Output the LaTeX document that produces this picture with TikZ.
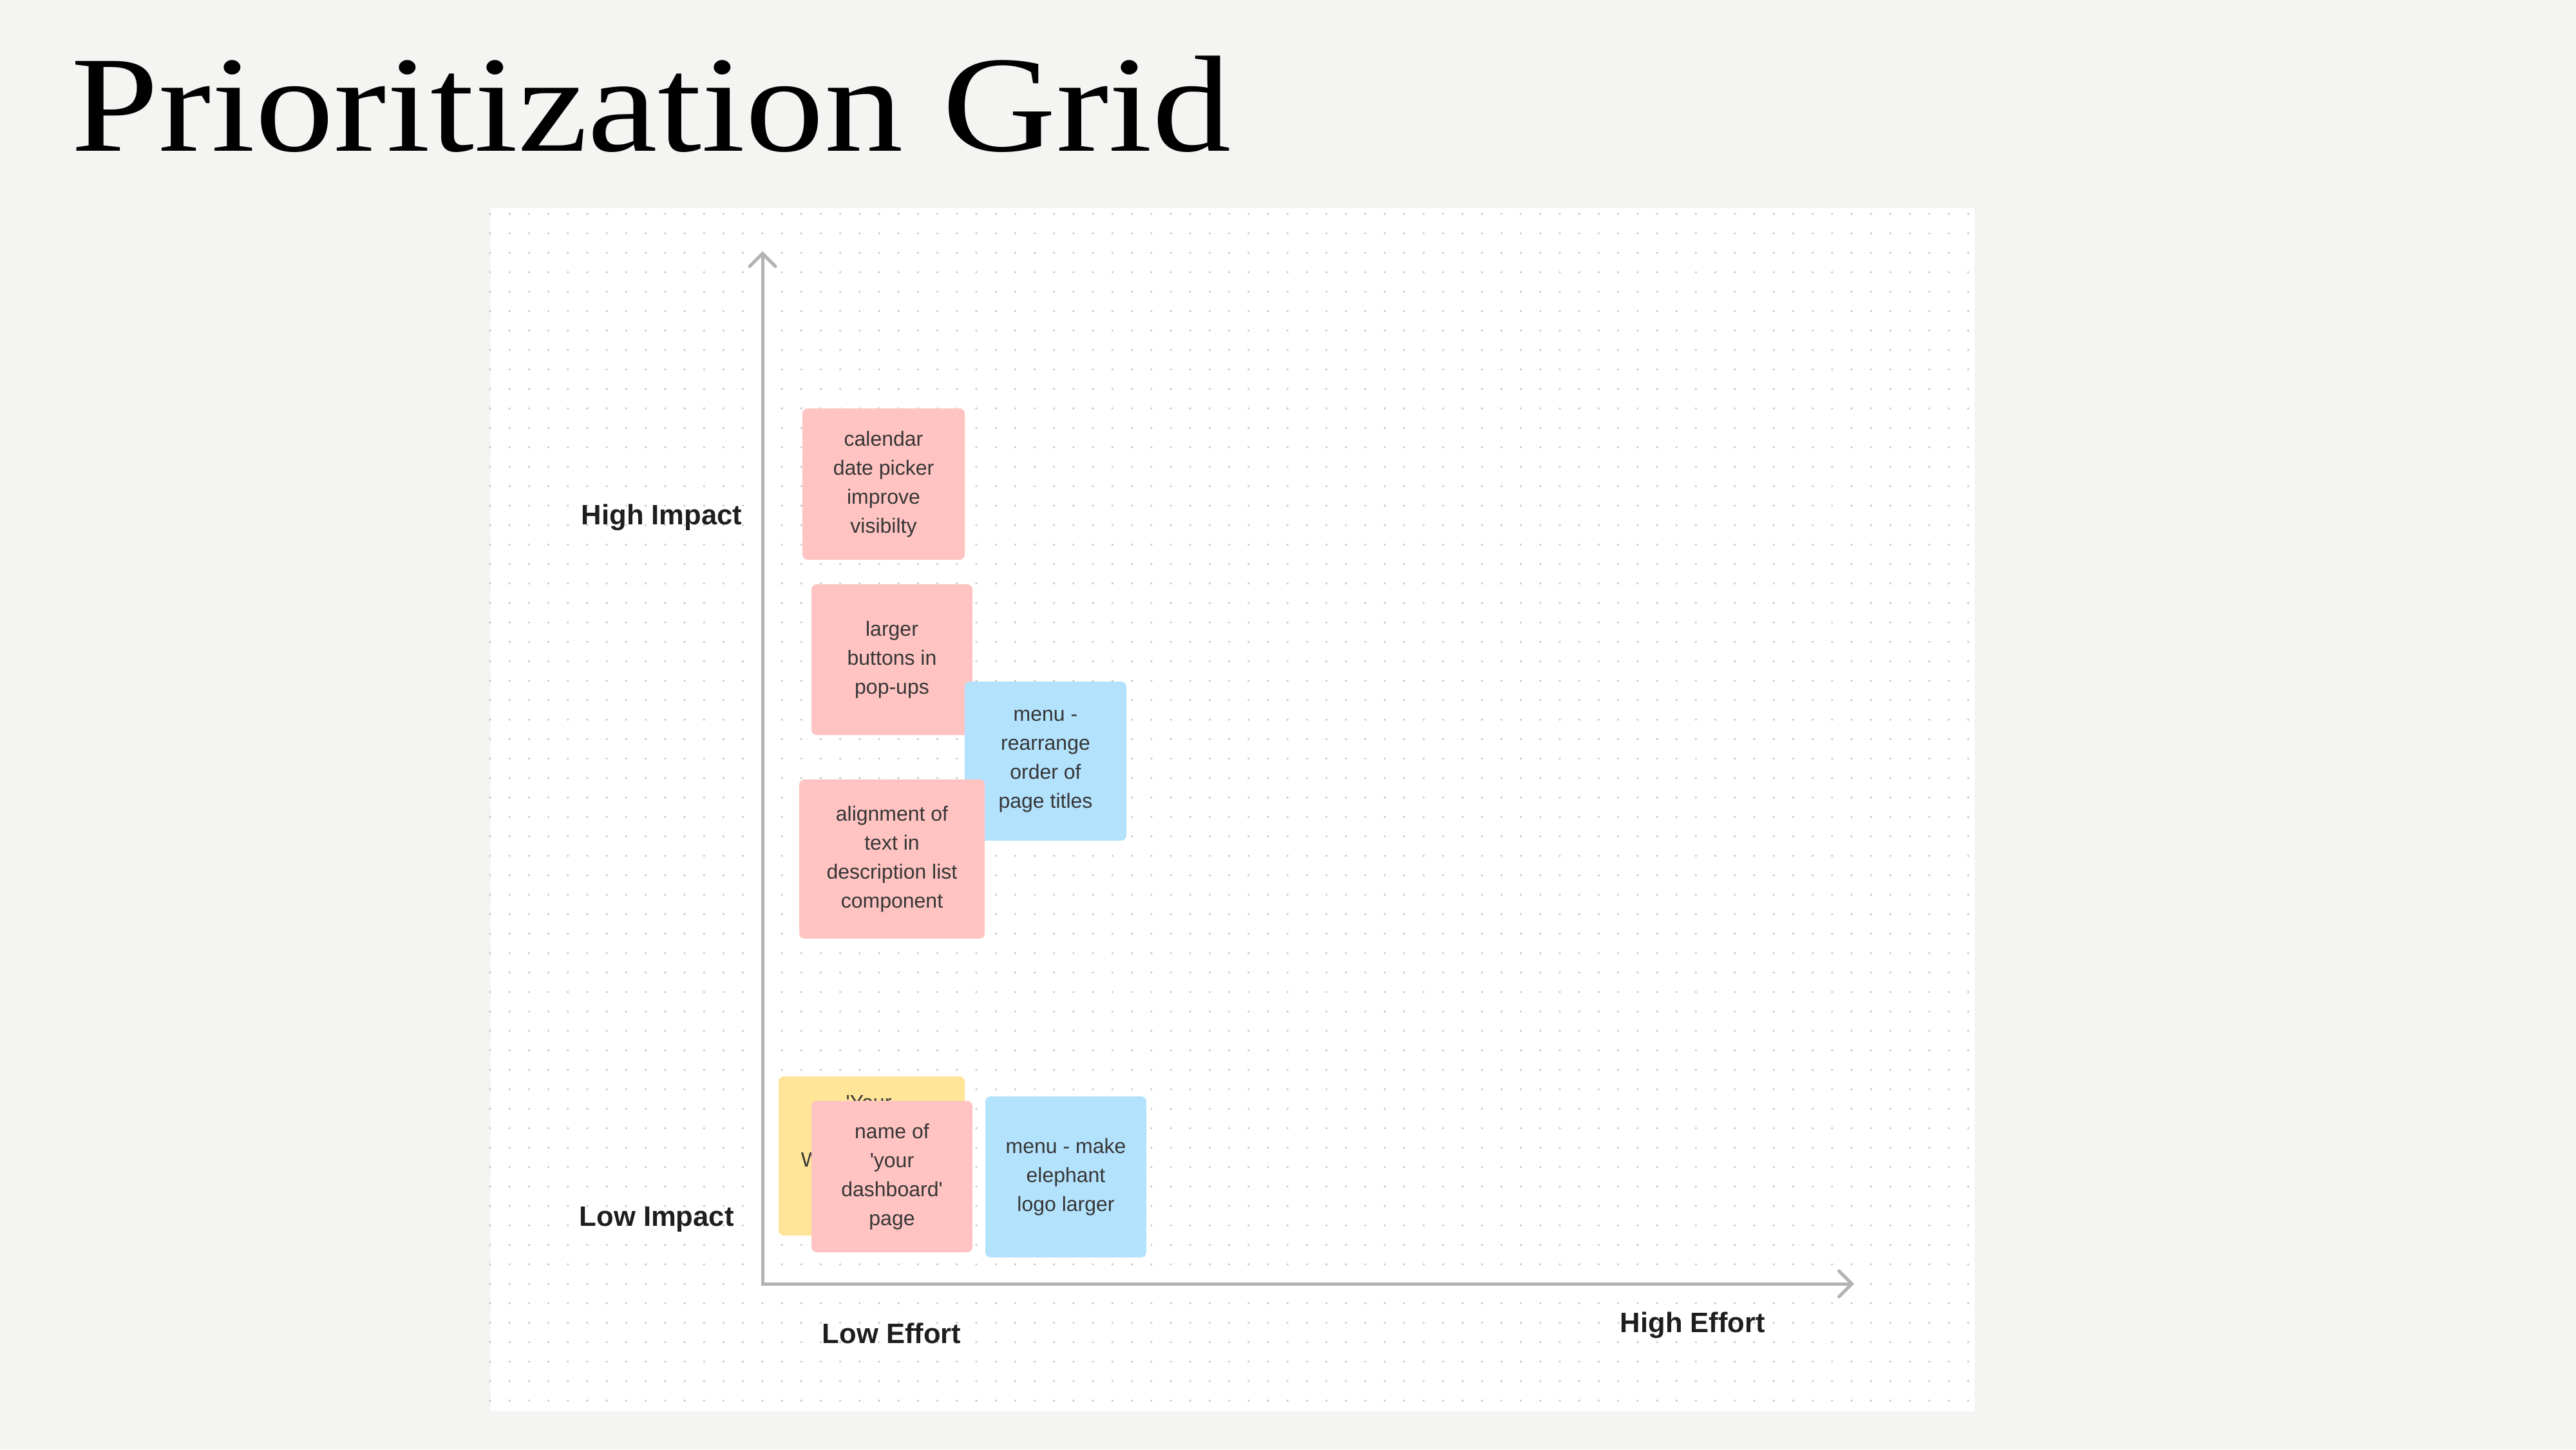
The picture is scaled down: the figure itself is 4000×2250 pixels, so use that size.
\documentclass[tikz,border=0pt]{standalone}
\usepackage{fontspec}
\usepackage{graphicx}
\usetikzlibrary{arrows.meta}
\newfontfamily\notefont{Liberation Sans}
\newfontfamily\titlefont{Liberation Serif}
\definecolor{bgc}{HTML}{F4F4F2}
\definecolor{pinkc}{HTML}{FFC4C2}
\definecolor{bluec}{HTML}{B3E2FD}
\definecolor{yellowc}{HTML}{FFE597}
\definecolor{axisc}{HTML}{B3B3B3}
\definecolor{dotc}{HTML}{C8C8C8}
\definecolor{notetext}{HTML}{363636}
\definecolor{labeltext}{HTML}{1E1E1E}
\tikzset{
  note/.style={rectangle, rounded corners=2pt, inner sep=0pt, align=center,
    font=\notefont\fontsize{8}{11.25}\selectfont, text=notetext},
  pinknote/.style={note, fill=pinkc},
  bluenote/.style={note, fill=bluec},
  yellownote/.style={note, fill=yellowc},
  axislabel/.style={inner sep=0pt, anchor=base west,
    font=\notefont\bfseries\fontsize{10.9}{13}\selectfont, text=labeltext},
  axisline/.style={draw=axisc, line width=1.25pt, line join=miter,
    {Straight Barb[length=5pt,width=10pt,line cap=round]}-{Straight Barb[length=5pt,width=10pt,line cap=round]}}
}
\begin{document}
\begin{tikzpicture}[x=0.25pt,y=-0.25pt]
\useasboundingbox (0,0) rectangle (4000,2250);
\fill[bgc] (0,0) rectangle (4000,2250);
% title
\node[inner sep=0pt, anchor=base west] (title) at (110,234)
  {\scalebox{1.15}[1]{\titlefont\fontsize{53.2}{60}\selectfont Prioritization Grid}};
% panel
\fill[white] (762,323) rectangle (3066,2191);
% dot grid
\foreach \i in {0,...,76}{
  \foreach \j in {0,...,61}{
    \fill[dotc] (761+\i*30.2, 332+\j*30.2) circle (0.45pt);
  }
}
% axes
\coordinate (ytop) at (1184,390);
\coordinate (origin) at (1184,1993);
\coordinate (xend) at (2879,1993);
\draw[axisline] (ytop) -- (origin) -- (xend);
% axis labels
\node[axislabel] (hi) at (902,814) {High Impact};
\node[axislabel] (li) at (899,1903) {Low Impact};
\node[axislabel] (le) at (1276,2085) {Low Effort};
\node[axislabel] (he) at (2515,2068) {High Effort};
% notes
\node[pinknote, minimum width=63pt, minimum height=58.75pt] (cal) at (1372,751.5)
  {calendar\\date picker\\improve\\visibilty};
\node[pinknote, minimum width=62.5pt, minimum height=58.5pt] (btn) at (1385,1024)
  {larger\\buttons in\\pop-ups};
\node[bluenote, minimum width=62.75pt, minimum height=61.75pt] (menu1) at (1623.5,1181.5)
  {menu -\\rearrange\\order of\\page titles};
\node[pinknote, minimum width=72pt, minimum height=61.75pt] (align) at (1385,1333.5)
  {alignment of\\text in\\description list\\component};
\node[yellownote, minimum width=72.25pt, minimum height=61.75pt] (yel) at (1353.5,1794.5) {};
\node[note, anchor=center] (yelt1) at (1349,1712) {\textquotesingle Your};
\node[note, anchor=west] (yelt2) at (1243,1800) {W};
\node[pinknote, minimum width=62.5pt, minimum height=58.75pt] (name) at (1385,1826.5)
  {name of\\\textquotesingle your\\dashboard\textquotesingle\\page};
\node[bluenote, minimum width=62.5pt, minimum height=62.5pt] (menu2) at (1655,1827)
  {menu - make\\elephant\\logo larger};
\end{tikzpicture}
\end{document}
